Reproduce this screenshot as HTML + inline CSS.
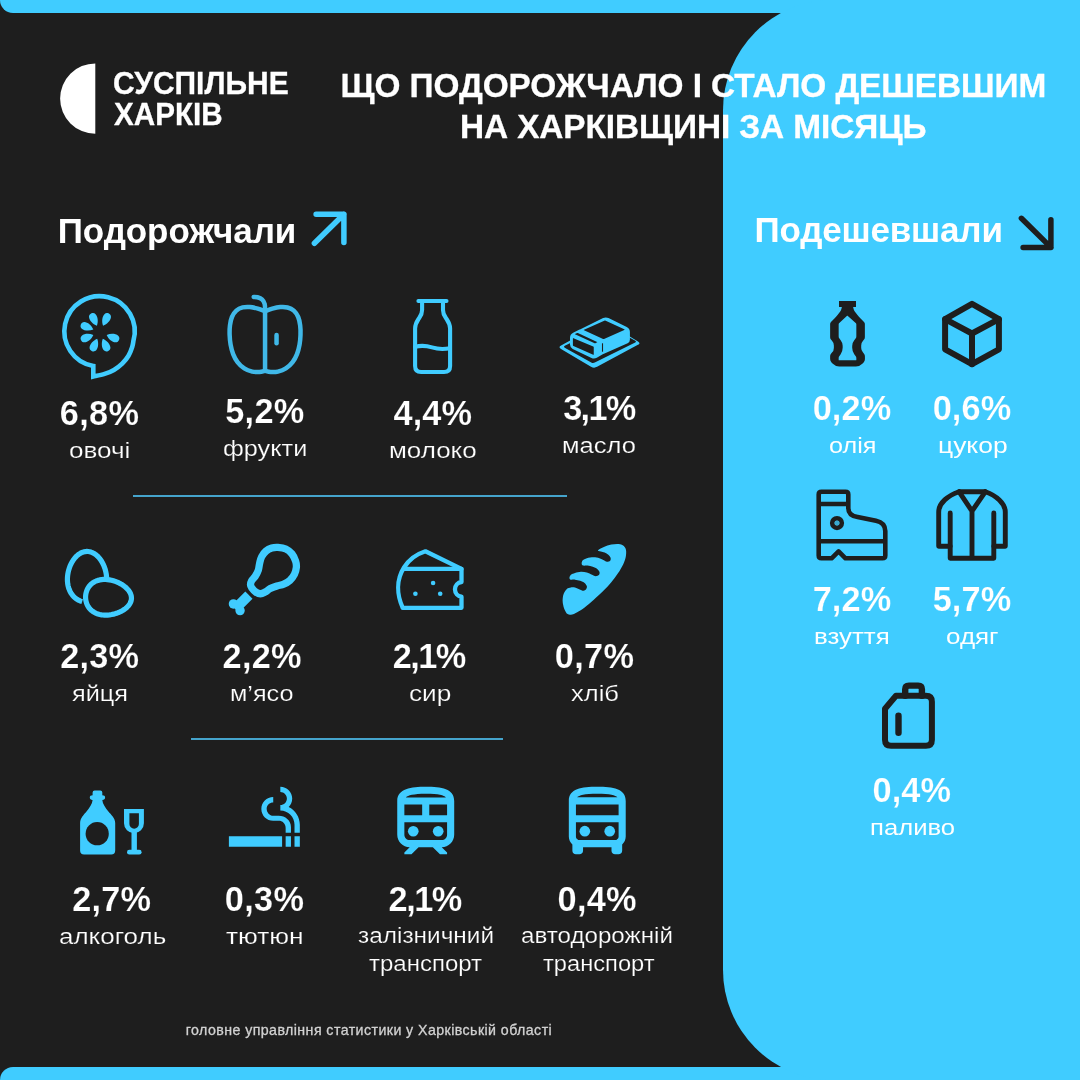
<!DOCTYPE html>
<html lang="uk">
<head>
<meta charset="utf-8">
<title>Що подорожчало і стало дешевшим на Харківщині за місяць</title>
<style>
html,body{margin:0;padding:0}
body{width:1080px;height:1080px;overflow:hidden;background:#1e1e1e;position:relative;font-family:"Liberation Sans",sans-serif}
header,main,section,footer,h1,h2,ul,li,p,hr{margin:0;padding:0;border:0;list-style:none;font-weight:inherit;font-size:inherit}
.band{position:absolute;left:0;width:1080px;background:#40ccff}
.band.top{top:-20px;height:33px;border-bottom-left-radius:13px}
.band.bot{top:1067px;height:33px;border-top-left-radius:13px}
.panel{position:absolute;left:722.5px;top:0;width:480px;height:1080px;background:#40ccff;border-radius:110px}
.t{position:absolute;white-space:nowrap;line-height:1;color:#fff;margin:0;transform-origin:0 0}
.logo{font-size:31.2px;font-weight:700}
.title{font-size:33.4px;font-weight:700}
.head{font-size:35.0px;font-weight:700}
.num{font-size:34.3px;font-weight:700}
.lab{font-size:22.6px;font-weight:400}
.foot{font-size:14.2px;font-weight:400}

.logo,.title{-webkit-text-stroke:0.3px #fff}
.foot{color:#d2d2d2;-webkit-text-stroke:0.3px #d2d2d2}
.num{-webkit-text-stroke:0.2px #1e1e1e}
.num.ob{-webkit-text-stroke-color:#40ccff}
.lab{-webkit-text-stroke:0.2px #1e1e1e}
.lab.ob{-webkit-text-stroke:0}
.sep{position:absolute;height:2px;background:#45a4cc}
svg{position:absolute;overflow:visible}
</style>
</head>
<body>
<div class="band top"></div>
<div class="band bot"></div>
<div class="panel"></div>
<header>
<div class="brand">
<svg class="ic" aria-hidden="true" style="left:58px;top:62px" width="40" height="74" viewBox="58 62 40 74">
<path d="M95.3 63.4 A35.2 35.2 0 0 0 95.3 133.8 Z" fill="#fff"/>
</svg>
<span class="t logo" style="left:112.99px;top:68.3px;transform:scaleX(0.9611)">СУСПІЛЬНЕ</span> <span class="t logo" style="left:113.95px;top:99.4px;transform:scaleX(0.9506)">ХАРКІВ</span>
</div>
<h1><span class="t title" style="left:340.55px;top:68.7px;letter-spacing:-0.072px">ЩО ПОДОРОЖЧАЛО І СТАЛО ДЕШЕВШИМ</span> <span class="t title" style="left:459.95px;top:110.4px;letter-spacing:-0.092px">НА ХАРКІВЩИНІ ЗА МІСЯЦЬ</span></h1>
</header>
<main>
<section class="up">
<h2><span class="t head" style="left:57.8px;top:213px;letter-spacing:-0.093px">Подорожчали</span></h2>
<svg class="ic" aria-hidden="true" style="left:308px;top:208px" width="44" height="44" viewBox="308 208 44 44">
<path d="M316.1 214.3 H343.9 V242.5 M343.9 214.3 L314.4 243.3" fill="none" stroke="#40ccff" stroke-width="5.5" stroke-linecap="round" stroke-linejoin="round"/>
</svg>
<ul>
<li>
<svg class="ic" aria-hidden="true" style="left:58px;top:290px" width="84" height="92" viewBox="58 290 84 92">
<g fill="none" stroke="#40ccff" stroke-width="4.6" stroke-linejoin="miter">
<path d="M93.3 376.6 L93.3 366 A35.2 35.2 0 1 1 133.4 341 C133.20 342.00 133.02 344.53 132.20 347.00 C131.38 349.47 130.17 353.02 128.50 355.80 C126.83 358.58 124.63 361.33 122.20 363.70 C119.77 366.07 116.83 368.30 113.90 370.00 C110.97 371.70 108.03 372.80 104.60 373.90 C101.17 375.00 95.18 376.15 93.30 376.60 Z"/>
</g>
<g transform="translate(100 332.2)" fill="#40ccff"><path d="M0 -7.2 C-3.2 -10.5 -4.6 -15 -3.6 -18.2 C-2.6 -21.4 2.6 -21.4 3.6 -18.2 C4.6 -15 3.2 -10.5 0 -7.2 Z" transform="rotate(-25)"/><path d="M0 -7.2 C-3.2 -10.5 -4.6 -15 -3.6 -18.2 C-2.6 -21.4 2.6 -21.4 3.6 -18.2 C4.6 -15 3.2 -10.5 0 -7.2 Z" transform="rotate(25)"/><path d="M0 -7.2 C-3.2 -10.5 -4.6 -15 -3.6 -18.2 C-2.6 -21.4 2.6 -21.4 3.6 -18.2 C4.6 -15 3.2 -10.5 0 -7.2 Z" transform="rotate(-68)"/><path d="M0 -7.2 C-3.2 -10.5 -4.6 -15 -3.6 -18.2 C-2.6 -21.4 2.6 -21.4 3.6 -18.2 C4.6 -15 3.2 -10.5 0 -7.2 Z" transform="rotate(-112)"/><path d="M0 -7.2 C-3.2 -10.5 -4.6 -15 -3.6 -18.2 C-2.6 -21.4 2.6 -21.4 3.6 -18.2 C4.6 -15 3.2 -10.5 0 -7.2 Z" transform="rotate(112)"/><path d="M0 -7.2 C-3.2 -10.5 -4.6 -15 -3.6 -18.2 C-2.6 -21.4 2.6 -21.4 3.6 -18.2 C4.6 -15 3.2 -10.5 0 -7.2 Z" transform="rotate(-157)"/><path d="M0 -7.2 C-3.2 -10.5 -4.6 -15 -3.6 -18.2 C-2.6 -21.4 2.6 -21.4 3.6 -18.2 C4.6 -15 3.2 -10.5 0 -7.2 Z" transform="rotate(157)"/></g>
</svg>
<strong class="t num" style="left:59.8px;top:396.2px;letter-spacing:0.341px">6,8%</strong>
<span class="name"><span class="t lab" style="left:69.3px;top:440.05px;transform:scaleX(1.1543)">овочі</span></span>
</li>
<li>
<svg class="ic" aria-hidden="true" style="left:224px;top:292px" width="82" height="86" viewBox="224 292 82 86">
<g fill="none" stroke="#40b8e8" stroke-width="4.5" stroke-linecap="round" stroke-linejoin="round">
<path d="M264.99 311.27 C263.80 310.83 260.35 309.34 257.83 308.64 C255.31 307.94 252.39 307.25 249.87 307.05 C247.35 306.85 244.96 306.85 242.70 307.45 C240.44 308.04 238.12 309.04 236.33 310.63 C234.54 312.22 233.01 314.53 231.95 317.00 C230.89 319.47 230.35 322.44 229.96 325.44 C229.58 328.44 229.54 331.81 229.64 334.99 C229.75 338.18 230.01 341.36 230.60 344.55 C231.18 347.73 231.99 351.18 233.15 354.10 C234.30 357.02 235.67 359.68 237.53 362.06 C239.38 364.45 241.84 366.84 244.29 368.43 C246.75 370.03 249.73 371.02 252.25 371.62 C254.78 372.21 257.30 372.15 259.42 372.02 C261.54 371.88 264.06 371.02 264.99 370.82"/>
<path d="M265.15 370.82 C266.08 371.02 268.60 371.88 270.73 372.02 C272.85 372.15 275.37 372.21 277.89 371.62 C280.41 371.02 283.40 370.03 285.85 368.43 C288.31 366.84 290.76 364.45 292.62 362.06 C294.48 359.68 295.85 357.02 297.00 354.10 C298.15 351.18 298.96 347.73 299.55 344.55 C300.13 341.36 300.40 338.18 300.50 334.99 C300.61 331.81 300.57 328.44 300.18 325.44 C299.80 322.44 299.26 319.47 298.19 317.00 C297.13 314.53 295.61 312.22 293.82 310.63 C292.02 309.04 289.70 308.04 287.45 307.45 C285.19 306.85 282.80 306.85 280.28 307.05 C277.76 307.25 274.84 307.94 272.32 308.64 C269.80 309.34 266.35 310.83 265.15 311.27"/>
<path d="M265.05 311 V370.5"/>
<path d="M265.07 311.11 C265.01 309.91 265.19 305.91 264.68 303.94 C264.16 301.98 263.18 300.44 261.97 299.32 C260.76 298.21 258.81 297.65 257.43 297.25 C256.05 296.86 254.31 296.99 253.69 296.94"/>
<path d="M276.55 335 V343.2"/>
</g>
</svg>
<strong class="t num" style="left:225.2px;top:394.15px;letter-spacing:0.308px">5,2%</strong>
<span class="name"><span class="t lab" style="left:223.2px;top:437.9px;transform:scaleX(1.1194)">фрукти</span></span>
</li>
<li>
<svg class="ic" aria-hidden="true" style="left:408px;top:295px" width="50" height="82" viewBox="408 295 50 82">
<g fill="none" stroke="#40ccff" stroke-width="4.1" stroke-linecap="round" stroke-linejoin="round">
<path d="M418.4 301 H446.5"/>
<path d="M422.1 301 V309.9 C422.1 314.5 420.5 316 418.5 319 C416.5 322 415.1 324.5 415.1 328.5 V366 Q415.1 372 421.1 372 H444.1 Q450.1 372 450.1 366 V328.5 C450.1 324.5 448.6 322 446.6 319 C444.6 316 443 314.5 443 309.9 V301"/>
<path d="M415.1 346.8 C421 345.2 427 345.8 432 347.4 C437 349 444 349.4 450.1 348.2"/>
</g>
</svg>
<strong class="t num" style="left:393.5px;top:396.2px;letter-spacing:0.108px">4,4%</strong>
<span class="name"><span class="t lab" style="left:388.65px;top:440.05px;transform:scaleX(1.1493)">молоко</span></span>
</li>
<li>
<svg class="ic" aria-hidden="true" style="left:554px;top:312px" width="92" height="60" viewBox="554 312 92 60">
<g>
<path d="M561.07 345.52 Q558.00 347.20 561.01 348.98 L590.99 366.72 Q594.00 368.50 597.08 366.84 L637.92 344.86 Q641.00 343.20 638.01 341.39 L607.99 323.21 Q605.00 321.40 601.93 323.08 Z" fill="#40ccff"/>
<path d="M564.79 345.82 Q563.00 346.70 564.75 347.68 L591.25 362.52 Q593.00 363.50 594.79 362.61 L635.21 342.59 Q637.00 341.70 635.25 340.73 L608.75 325.97 Q607.00 325.00 605.21 325.88 Z" fill="#1e1e1e"/>
<path d="M603.10 318.12 Q605.80 316.80 608.49 318.12 L626.76 327.06 Q629.90 328.60 629.90 332.10 L629.90 339.70 Q629.90 342.20 627.62 343.22 L602.81 354.29 Q601.90 354.70 601.04 355.20 L596.79 357.69 Q594.20 359.20 591.49 357.90 L572.71 348.90 Q570.00 347.60 570.00 344.60 L570.00 337.90 Q570.00 334.40 573.13 332.83 L579.55 329.62 Q580.00 329.40 580.45 329.18 Z" fill="#40ccff"/>
<path d="M584.03 330.33 Q583.30 330.00 584.03 329.68 L604.27 320.72 Q605.00 320.40 605.73 320.73 L624.27 329.27 Q625.00 329.60 624.27 329.92 L604.03 338.88 Q603.30 339.20 602.57 338.87 Z" fill="#1e1e1e"/>
<path d="M574.97 334.36 Q574.60 334.20 574.97 334.04 L577.13 333.06 Q577.50 332.90 577.86 333.07 L597.14 341.93 Q597.50 342.10 597.14 342.27 L595.36 343.13 Q595.00 343.30 594.63 343.14 Z" fill="#1e1e1e"/>
<path d="M572.90 338.50 Q572.90 337.90 573.45 338.13 L593.20 346.47 Q593.75 346.70 593.75 347.30 L593.75 354.40 Q593.75 355.00 593.20 354.76 L573.45 346.04 Q572.90 345.80 572.90 345.20 Z" fill="#1e1e1e"/>
<path d="M602.5 343.3 V351.7" stroke="#1e1e1e" stroke-width="1.1" fill="none"/>
</g>
</svg>
<strong class="t num" style="left:563.3px;top:391.2px;letter-spacing:-1.759px">3,1%</strong>
<span class="name"><span class="t lab" style="left:562.47px;top:435.05px;transform:scaleX(1.1295)">масло</span></span>
</li>
<li>
<svg class="ic" aria-hidden="true" style="left:60px;top:544px" width="80" height="78" viewBox="60 544 80 78">
<g fill="none" stroke="#40ccff" stroke-width="5.2" stroke-linecap="round" stroke-linejoin="round">
<path d="M106.67 579.51 L106.62 577.57 L106.45 575.63 L106.18 573.69 L105.80 571.77 L105.32 569.88 L104.74 568.04 L104.07 566.24 L103.32 564.51 L102.48 562.85 L101.57 561.27 L100.59 559.78 L99.55 558.39 L98.45 557.11 L97.29 555.95 L96.09 554.90 L94.85 553.99 L93.58 553.21 L92.28 552.57 L90.95 552.07 L89.61 551.71 L88.26 551.50 L86.90 551.45 L85.55 551.53 L84.19 551.77 L82.86 552.16 L81.54 552.68 L80.24 553.35 L78.97 554.16 L77.74 555.10 L76.55 556.17 L75.41 557.36 L74.31 558.66 L73.28 560.07 L72.32 561.57 L71.42 563.17 L70.60 564.85 L69.86 566.59 L69.21 568.40 L68.65 570.25 L68.19 572.15 L67.83 574.07 L67.58 576.01 L67.44 577.95 L67.41 579.89 L67.50 581.81 L67.71 583.70 L68.03 585.55 L68.48 587.35 L69.05 589.09 L69.74 590.75 L70.55 592.34 L71.47 593.83 L72.50 595.23 L73.63 596.51 L74.86 597.69 L76.18 598.74 L77.58 599.66 L79.05 600.45 L80.59 601.10 L82.17 601.61" stroke-linecap="butt"/>
<path d="M131.45 598.65 L131.29 599.98 L130.96 601.29 L130.46 602.59 L129.79 603.85 L128.96 605.08 L127.97 606.28 L126.83 607.42 L125.55 608.52 L124.14 609.55 L122.61 610.52 L120.98 611.41 L119.24 612.23 L117.42 612.96 L115.54 613.59 L113.60 614.13 L111.61 614.55 L109.61 614.86 L107.60 615.05 L105.59 615.11 L103.60 615.04 L101.66 614.83 L99.76 614.47 L97.93 613.97 L96.19 613.33 L94.54 612.53 L93.00 611.60 L91.57 610.52 L90.28 609.31 L89.13 607.97 L88.13 606.52 L87.28 604.97 L86.60 603.32 L86.09 601.61 L85.75 599.85 L85.58 598.05 L85.59 596.24 L85.77 594.44 L86.12 592.67 L86.65 590.95 L87.34 589.31 L88.19 587.74 L89.19 586.29 L90.34 584.95 L91.62 583.74 L93.03 582.67 L94.56 581.75 L96.19 580.98 L97.92 580.36 L99.72 579.90 L101.59 579.60 L103.51 579.44 L105.47 579.43 L107.45 579.57 L109.44 579.84 L111.42 580.24 L113.39 580.76 L115.31 581.39 L117.19 582.12 L119.00 582.95 L120.73 583.86 L122.37 584.85 L123.90 585.92 L125.32 587.04 L126.62 588.21 L127.77 589.44 L128.79 590.69 L129.64 591.98 L130.34 593.30 L130.88 594.63 L131.24 595.96 L131.43 597.31 L131.45 598.65 Z"/>
</g>
</svg>
<strong class="t num" style="left:60.2px;top:639.15px;letter-spacing:0.208px">2,3%</strong>
<span class="name"><span class="t lab" style="left:72.1px;top:682.9px;transform:scaleX(1.1210)">яйця</span></span>
</li>
<li>
<svg class="ic" aria-hidden="true" style="left:222px;top:538px" width="84" height="82" viewBox="222 538 84 82">
<path d="M277.90 547.47 C280.24 547.63 283.50 547.93 285.84 549.00 C288.19 550.07 290.33 551.85 291.96 553.89 C293.59 555.93 294.89 558.99 295.62 561.23 C296.36 563.47 296.56 565.15 296.36 567.34 C296.15 569.53 295.49 572.18 294.40 574.37 C293.31 576.56 291.60 578.85 289.82 580.48 C288.03 582.11 285.84 583.23 283.70 584.15 C281.56 585.07 279.22 585.24 276.98 585.98 C274.74 586.73 272.24 587.59 270.26 588.61 C268.27 589.63 266.69 591.24 265.06 592.10 C263.43 592.95 262.00 593.75 260.48 593.75 C258.95 593.75 257.35 593.08 255.89 592.10 C254.44 591.11 252.63 589.04 251.74 587.82 C250.84 586.59 250.53 585.93 250.51 584.76 C250.49 583.59 250.82 582.21 251.61 580.79 C252.41 579.36 254.16 577.99 255.28 576.20 C256.40 574.42 257.60 572.28 258.34 570.09 C259.07 567.90 259.12 565.30 259.68 563.06 C260.24 560.82 260.65 558.63 261.70 556.64 C262.75 554.66 264.30 552.57 265.98 551.14 C267.66 549.72 269.80 548.70 271.78 548.09 C273.77 547.47 275.55 547.32 277.90 547.47 Z" fill="none" stroke="#40ccff" stroke-width="7.3" stroke-linejoin="round"/>
<g transform="translate(278.4 565.6) rotate(45)" fill="#40ccff">
<path d="M-5.1 41.7 H5.1 V58 L0 61.6 L-5.1 58 Z"/>
<circle cx="-4.7" cy="58.9" r="4.7"/><circle cx="4.7" cy="58.9" r="4.7"/>
</g>
</svg>
<strong class="t num" style="left:222.5px;top:639.15px;letter-spacing:0.308px">2,2%</strong>
<span class="name"><span class="t lab" style="left:230.28px;top:682.9px;transform:scaleX(1.1168)">м’ясо</span></span>
</li>
<li>
<svg class="ic" aria-hidden="true" style="left:392px;top:546px" width="76" height="68" viewBox="392 546 76 68">
<g fill="none" stroke="#40ccff" stroke-width="4.3" stroke-linejoin="round" stroke-linecap="round">
<path d="M425.4 551.3 L461.5 568.9 V582 A7.4 7.4 0 0 0 461.5 596.7 V607.8 H402.7 C397 595 396 580 404 567.5 C409 559.5 417 554 425.4 551.3 Z"/>
<path d="M404 568.9 H461.5"/>
</g>
<g fill="#40ccff"><circle cx="433.1" cy="583" r="2.3"/><circle cx="415.4" cy="593.7" r="2.3"/><circle cx="440.2" cy="593.7" r="2.3"/></g>
</svg>
<strong class="t num" style="left:392.8px;top:639.15px;letter-spacing:-1.592px">2,1%</strong>
<span class="name"><span class="t lab" style="left:408.6px;top:682.9px;transform:scaleX(1.1610)">сир</span></span>
</li>
<li>
<svg class="ic" aria-hidden="true" style="left:558px;top:540px" width="74" height="80" viewBox="558 540 74 80">
<path d="M598.33 550.00 C599.20 549.32 601.73 547.94 603.89 547.04 C606.05 546.14 608.83 545.09 611.30 544.59 C613.77 544.10 616.73 543.91 618.70 544.07 C620.68 544.23 621.94 544.63 623.15 545.56 C624.36 546.48 625.53 547.72 625.96 549.63 C626.40 551.54 626.21 554.57 625.74 557.04 C625.27 559.51 624.44 561.73 623.15 564.44 C621.85 567.16 619.94 570.37 617.96 573.33 C615.99 576.30 613.77 579.26 611.30 582.22 C608.83 585.19 606.11 588.15 603.15 591.11 C600.19 594.07 596.60 597.28 593.52 600.00 C590.43 602.72 587.35 605.37 584.63 607.41 C581.91 609.44 579.32 611.05 577.22 612.22 C575.12 613.40 573.64 614.14 572.04 614.44 C570.43 614.75 568.83 614.88 567.59 614.07 C566.36 613.27 565.43 611.48 564.63 609.63 C563.83 607.78 563.09 604.94 562.78 602.96 C562.47 600.99 562.59 599.38 562.78 597.78 C562.96 596.17 563.21 594.81 563.89 593.33 C564.57 591.85 565.68 589.88 566.85 588.89 C568.02 587.90 569.44 587.59 570.93 587.41 C572.41 587.22 574.20 587.41 575.74 587.78 C577.28 588.15 578.89 589.14 580.19 589.63 C581.48 590.12 582.53 590.80 583.52 590.74 C584.51 590.68 585.56 590.00 586.11 589.26 C586.67 588.52 587.10 587.35 586.85 586.30 C586.60 585.25 585.74 583.89 584.63 582.96 C583.52 582.04 581.79 581.30 580.19 580.74 C578.58 580.19 576.60 579.81 575.00 579.63 C573.40 579.44 571.48 579.94 570.56 579.63 C569.63 579.32 569.38 578.58 569.44 577.78 C569.51 576.98 570.00 575.62 570.93 574.81 C571.85 574.01 573.33 573.46 575.00 572.96 C576.67 572.47 578.95 571.91 580.93 571.85 C582.90 571.79 585.00 572.10 586.85 572.59 C588.70 573.09 590.56 574.20 592.04 574.81 C593.52 575.43 594.57 576.30 595.74 576.30 C596.91 576.30 598.46 575.56 599.07 574.81 C599.69 574.07 599.75 572.84 599.44 571.85 C599.14 570.86 598.33 569.75 597.22 568.89 C596.11 568.02 594.38 567.22 592.78 566.67 C591.17 566.11 589.20 565.74 587.59 565.56 C585.99 565.37 584.14 565.86 583.15 565.56 C582.16 565.25 581.73 564.57 581.67 563.70 C581.60 562.84 581.91 561.30 582.78 560.37 C583.64 559.44 585.06 558.68 586.85 558.15 C588.64 557.62 591.42 557.19 593.52 557.19 C595.62 557.19 597.72 557.62 599.44 558.15 C601.17 558.68 602.65 559.75 603.89 560.37 C605.12 560.99 605.80 561.79 606.85 561.85 C607.90 561.91 609.57 561.42 610.19 560.74 C610.80 560.06 610.86 558.77 610.56 557.78 C610.25 556.79 609.32 555.68 608.33 554.81 C607.35 553.95 605.86 553.15 604.63 552.59 C603.40 552.04 601.91 551.73 600.93 551.48 C599.94 551.23 599.14 551.36 598.70 551.11 C598.27 550.86 597.47 550.68 598.33 550.00 Z" fill="#40ccff"/>
</svg>
<strong class="t num" style="left:554.8px;top:639.15px;letter-spacing:0.341px">0,7%</strong>
<span class="name"><span class="t lab" style="left:571.3px;top:682.9px;transform:scaleX(1.1301)">хліб</span></span>
</li>
<li>
<svg class="ic" aria-hidden="true" style="left:76px;top:786px" width="72" height="72" viewBox="76 786 72 72">
<path d="M94.6 790.6 H100.3 Q102.3 790.6 102.3 792.6 V795.2 Q105.1 795.2 105.1 797.5 Q105.1 799.9 102.3 799.9 C102.6 804 105.4 807.5 108.4 811.5 C110.9 814.5 115.2 818 115.2 823 V850.5 Q115.2 854.5 111.2 854.5 H84.1 Q80.1 854.5 80.1 850.5 V823 C80.1 818 84 814.5 86.5 811.5 C89.5 807.5 92.3 804 92.6 799.9 Q89.8 799.9 89.8 797.5 Q89.8 795.2 92.6 795.2 V792.6 Q92.6 790.6 94.6 790.6 Z" fill="#40ccff"/>
<circle cx="97.2" cy="833.7" r="11.6" fill="#1e1e1e"/>
<path fill-rule="evenodd" d="M124 809.1 H143.9 V823.3 A9.95 9.95 0 0 1 124 823.3 Z M129.4 813.3 V824 A4.75 4.75 0 0 0 138.9 824 V813.3 Z" fill="#40ccff"/>
<rect x="131.5" y="831" width="5.4" height="20" fill="#40ccff"/>
<rect x="127" y="849.8" width="14.6" height="4.7" rx="2.35" fill="#40ccff"/>
</svg>
<strong class="t num" style="left:72.2px;top:882.1px;letter-spacing:0.174px">2,7%</strong>
<span class="name"><span class="t lab" style="left:58.8px;top:925.8px;transform:scaleX(1.1498)">алкоголь</span></span>
</li>
<li>
<svg class="ic" aria-hidden="true" style="left:224px;top:782px" width="80" height="70" viewBox="224 782 80 70">
<g transform="translate(221.8 779.6) scale(3.547 3.54)" fill="#40ccff"><path d="M2 16h15v3H2zm18.5 0H22v3h-1.5zM18 16h1.5v3H18zm.85-8.27c.62-.61 1-1.45 1-2.38C19.850 3.500 18.350 2 16.500 2v1.500c1.020 0 1.850.830 1.850 1.850S17.520 7.200 16.500 7.200v1.500c2.240 0 4 1.830 4 4.070V15H22v-2.240c0-2.220-1.280-4.140-3.150-5.030zm-2.820 2.470H14.500c-1.020 0-1.850-.980-1.850-2s.830-1.750 1.850-1.750v-1.500c-1.850 0-3.350 1.500-3.350 3.350s1.500 3.350 3.350 3.350h1.530c1.050 0 1.970.740 1.970 2.050V15h1.500v-1.640c0-1.810-1.600-3.160-3.470-3.160z"/></g>
</svg>
<strong class="t num" style="left:224.8px;top:882.15px;letter-spacing:0.341px">0,3%</strong>
<span class="name"><span class="t lab" style="left:225.8px;top:925.9px;transform:scaleX(1.1661)">тютюн</span></span>
</li>
<li>
<svg class="ic" aria-hidden="true" style="left:392px;top:782px" width="66" height="76" viewBox="392 782 66 76">
<g transform="translate(383 779.6) scale(3.56)" fill="#40ccff"><path d="M12 2c-4 0-8 .5-8 4v9.500C4 17.430 5.570 19 7.500 19L6 20.500v.5h2l2-2h4l2 2h2v-.5L16.500 19c1.930 0 3.500-1.570 3.500-3.500V6c0-3.500-3.580-4-8-4zm5.660 3H6.430c.61-.52 2.060-1 5.570-1 3.710 0 5.120.46 5.660 1zM11 7v3H6V7h5zm2 0h5v3h-5V7zm3.500 10h-9c-.83 0-1.500-.67-1.500-1.500V12h12v3.500c0 .83-.67 1.500-1.500 1.500z"/><circle cx="8.5" cy="14.5" r="1.5"/><circle cx="15.5" cy="14.5" r="1.5"/></g>
</svg>
<strong class="t num" style="left:388.6px;top:881.9px;letter-spacing:-1.492px">2,1%</strong>
<span class="name"><span class="t lab" style="left:357.5px;top:925.1px;transform:scaleX(1.0793)">залізничний</span> <span class="t lab" style="left:369.3px;top:953.15px;transform:scaleX(1.0620)">транспорт</span></span>
</li>
<li>
<svg class="ic" aria-hidden="true" style="left:564px;top:782px" width="66" height="76" viewBox="564 782 66 76">
<g transform="translate(554.6 779.6) scale(3.556)" fill="#40ccff"><path d="M12 2c-4.420 0-8 .5-8 4v10c0 .880.390 1.670 1 2.220V20c0 .550.450 1 1 1h1c.550 0 1-.450 1-1v-1h8v1c0 .550.450 1 1 1h1c.550 0 1-.450 1-1v-1.780c.610-.550 1-1.340 1-2.220V6c0-3.500-3.580-4-8-4zm5.660 2.990H6.340C6.890 4.460 8.310 4 12 4s5.110.46 5.660.99zm.34 2V10H6V6.990h12zm-.34 9.740l-.29.27H6.630l-.29-.27C6.210 16.620 6 16.370 6 16v-4h12v4c0 .37-.21.62-.34.73z"/><circle cx="8.5" cy="14.5" r="1.5"/><circle cx="15.5" cy="14.5" r="1.5"/></g>
</svg>
<strong class="t num" style="left:557.5px;top:881.9px;letter-spacing:0.308px">0,4%</strong>
<span class="name"><span class="t lab" style="left:521.3px;top:925.1px;transform:scaleX(1.0688)">автодорожній</span> <span class="t lab" style="left:543.2px;top:953.15px;transform:scaleX(1.0478)">транспорт</span></span>
</li>
</ul>
<hr class="sep" style="left:132.6px;top:495px;width:434.2px">
<hr class="sep" style="left:191.2px;top:738px;width:311.4px">
</section>
<section class="down">
<h2><span class="t head" style="left:754.5px;top:212.3px;letter-spacing:-0.188px">Подешевшали</span></h2>
<svg class="ic" aria-hidden="true" style="left:1015px;top:212px" width="44" height="44" viewBox="1015 212 44 44">
<path d="M1050.9 219.7 V247.4 H1023.1 M1050.9 247.4 L1021.4 218.3" fill="none" stroke="#1e1e1e" stroke-width="5.5" stroke-linecap="round" stroke-linejoin="round"/>
</svg>
<ul>
<li>
<svg class="ic" aria-hidden="true" style="left:826px;top:297px" width="44" height="74" viewBox="826 297 44 74">
<path d="M839.00 301.00 L856.00 301.00 L856.00 307.00 L853.13 307.00 L853.54 308.87 Q853.87 310.33 854.77 311.53 L857.46 315.07 Q858.67 316.67 860.09 318.07 L864.01 321.96 Q864.87 322.80 864.87 324.00 L864.87 337.17 Q864.87 338.67 863.85 339.77 L863.03 340.67 Q861.20 342.67 861.20 345.38 L861.20 348.00 Q861.20 350.67 863.03 352.60 L863.83 353.44 Q864.87 354.53 864.90 356.03 L864.96 359.00 Q865.00 361.00 863.60 362.43 L862.33 363.73 Q859.67 366.47 855.85 366.47 L839.29 366.47 Q835.47 366.47 832.80 363.73 L831.53 362.43 Q830.13 361.00 830.13 359.00 L830.13 356.03 Q830.13 354.53 831.18 353.45 L832.00 352.60 Q833.87 350.67 833.87 347.98 L833.87 345.40 Q833.87 342.67 832.00 340.67 L831.16 339.76 Q830.13 338.67 830.13 337.17 L830.13 324.00 Q830.13 322.80 830.99 321.96 L834.91 318.07 Q836.33 316.67 837.54 315.07 L840.23 311.53 Q841.13 310.33 841.46 308.87 L841.87 307.00 L839.00 307.00 Z" fill="#1e1e1e"/>
<path d="M847.11 315.87 Q847.33 315.67 847.56 315.87 L855.96 323.33 Q856.33 323.67 856.33 324.17 L856.33 336.47 Q856.33 337.67 855.57 338.59 L854.27 340.17 Q852.20 342.67 852.20 345.91 L852.20 347.83 Q852.20 351.33 854.26 354.16 L855.74 356.19 Q856.33 357.00 856.33 358.00 L856.33 360.03 Q856.33 360.33 856.03 360.33 L838.97 360.33 Q838.67 360.33 838.67 360.03 L838.67 358.00 Q838.67 357.00 839.24 356.18 L840.67 354.17 Q842.67 351.33 842.67 347.87 L842.67 345.87 Q842.67 342.67 840.67 340.17 L839.42 338.60 Q838.67 337.67 838.67 336.47 L838.67 324.17 Q838.67 323.67 839.03 323.33 Z" fill="#40ccff"/>
</svg>
<strong class="t num ob" style="left:812.7px;top:391.2px;letter-spacing:0.108px">0,2%</strong>
<span class="name"><span class="t lab ob" style="left:828.6px;top:435.05px;transform:scaleX(1.1146)">олія</span></span>
</li>
<li>
<svg class="ic" aria-hidden="true" style="left:938px;top:297px" width="68" height="74" viewBox="938 297 68 74">
<g fill="none" stroke="#1e1e1e" stroke-width="6" stroke-linejoin="round" stroke-linecap="round">
<path d="M972 303.9 L998.9 319.2 V349.3 L972 364.2 L945.1 349.3 V319.2 Z"/>
<path d="M945.1 319.2 L972 333.5 L998.9 319.2 M972 333.5 V364.2"/>
</g>
</svg>
<strong class="t num ob" style="left:932.7px;top:391.2px;letter-spacing:0.108px">0,6%</strong>
<span class="name"><span class="t lab ob" style="left:937.53px;top:435.05px;transform:scaleX(1.1701)">цукор</span></span>
</li>
<li>
<svg class="ic" aria-hidden="true" style="left:812px;top:486px" width="80" height="78" viewBox="812 486 80 78">
<g fill="none" stroke="#1e1e1e" stroke-width="4.6" stroke-linejoin="round" stroke-linecap="round">
<path d="M821.5 491.7 H845.5 Q848.3 491.7 848.3 494.5 V508 C848.3 513 851 516 857.6 517.1 L876 520.7 C882 522 885.3 525 885.3 531 V555.5 Q885.3 558.3 882.5 558.3 H845.5 L838.6 551.4 L831.6 558.3 H821.5 Q818.7 558.3 818.7 555.5 V494.5 Q818.7 491.7 821.5 491.7 Z"/>
<path d="M818.7 504 H848.3 M818.7 541.2 H885.3" stroke-linecap="butt"/>
<circle cx="837" cy="523.1" r="4.8"/>
</g>
<circle cx="837" cy="523.1" r="2.4" fill="#3aa9cf"/>
</svg>
<strong class="t num ob" style="left:812.7px;top:582.1px;letter-spacing:0.108px">7,2%</strong>
<span class="name"><span class="t lab ob" style="left:814.45px;top:625.85px;transform:scaleX(1.1465)">взуття</span></span>
</li>
<li>
<svg class="ic" aria-hidden="true" style="left:932px;top:486px" width="80" height="78" viewBox="932 486 80 78">
<g fill="none" stroke="#1e1e1e" stroke-width="4.9" stroke-linejoin="round" stroke-linecap="round">
<path d="M950.2 546.3 H938.7 V512 C938.7 503 948 495.5 959 491.7 H985.4 C996 495.5 1005.3 503 1005.3 512 V546.3 H993.8"/>
<path d="M950.2 513 V558.3 H993.8 V513"/>
<path d="M959 491.7 L972 511.1 L985.4 491.7 M972 511.1 V557"/>
</g>
</svg>
<strong class="t num ob" style="left:932.7px;top:582.1px;letter-spacing:0.108px">5,7%</strong>
<span class="name"><span class="t lab ob" style="left:945.8px;top:625.85px;transform:scaleX(1.1498)">одяг</span></span>
</li>
<li>
<svg class="ic" aria-hidden="true" style="left:878px;top:679px" width="60" height="74" viewBox="878 679 60 74">
<g fill="none" stroke="#1e1e1e" stroke-width="6" stroke-linejoin="round" stroke-linecap="round">
<path d="M896 695.8 H925.9 Q931.9 695.8 931.9 701.8 V739.8 Q931.9 745.8 925.9 745.8 H891 Q885 745.8 885 739.8 V708.7 Z"/>
<path d="M905.2 695.8 V689.3 Q905.2 685.6 908.9 685.6 H918.2 Q921.9 685.6 921.9 689.3 V695.8" stroke-width="6.4"/>
<path d="M898.5 715.7 V732.8" stroke-width="6.4"/>
</g>
</svg>
<strong class="t num ob" style="left:872.5px;top:773.1px;letter-spacing:0.108px">0,4%</strong>
<span class="name"><span class="t lab ob" style="left:869.66px;top:816.85px;transform:scaleX(1.1356)">паливо</span></span>
</li>
</ul>
</section>
</main>
<footer><p class="t foot" style="left:185.75px;top:1023px;letter-spacing:0.429px">головне управління статистики у Харківській області</p></footer>
</body>
</html>
